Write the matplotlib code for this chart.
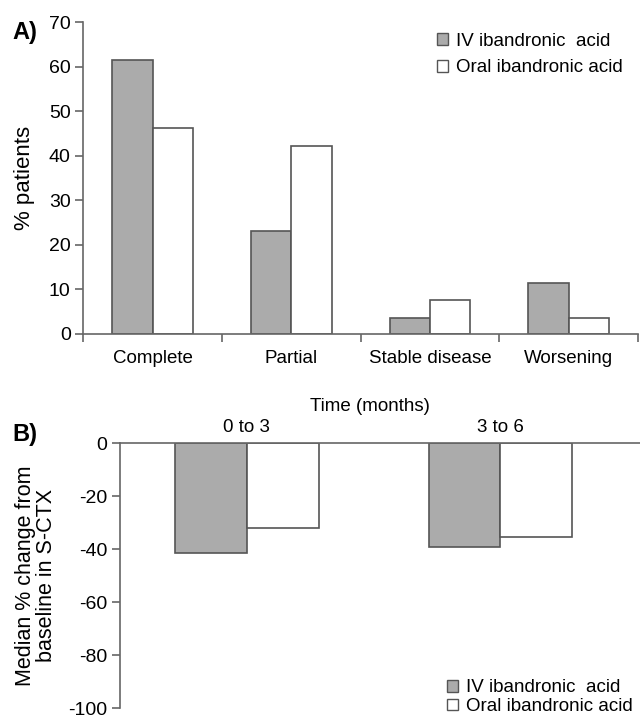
import numpy as np
import matplotlib.pyplot as plt
from matplotlib.patches import Patch

plt.rcParams['font.family'] = ['Liberation Sans', 'DejaVu Sans']
plt.rcParams['axes.unicode_minus'] = False

# panel A data
categories = ["Complete", "Partial", "Stable disease", "Worsening"]
iv_resp = [61.5, 23.1, 3.6, 11.4]
oral_resp = [46.2, 42.3, 7.7, 3.6]

# panel B data
periods = ["0 to 3", "3 to 6"]
iv_ctx = [-41.4, -39.4]
oral_ctx = [-32.2, -35.4]

grey = "#ababab"
edge = "#555555"
spine_c = "#666666"
labels = ["IV ibandronic  acid", "Oral ibandronic acid"]

fig = plt.figure(figsize=(6.4, 7.21), dpi=100)

# ---- A ----
axA = fig.add_axes([0.130, 0.537, 0.867, 0.432])
x = np.arange(len(categories))
w = 0.29
axA.bar(x - w/2, iv_resp, w, color=grey, edgecolor=edge, linewidth=1.2)
axA.bar(x + w/2, oral_resp, w, color="white", edgecolor=edge, linewidth=1.2)
axA.set_xlim(-0.5, 3.5)
axA.set_ylim(0, 70)
axA.set_yticks(range(0, 71, 10))
axA.set_xticks(np.arange(-0.5, 4, 1))
axA.set_xticklabels([])
axA.set_xticks(x, minor=True)
axA.set_xticklabels(categories, minor=True, fontsize=13.5)
axA.tick_params(axis="x", which="minor", length=0, pad=12)
axA.tick_params(axis="x", which="major", direction="out", length=6, color=spine_c, width=1.2)
axA.tick_params(axis="y", length=6, color=spine_c, width=1.2, labelsize=14, pad=3)
for s in ["top", "right"]:
    axA.spines[s].set_visible(False)
for s in ["left", "bottom"]:
    axA.spines[s].set_color(spine_c)
    axA.spines[s].set_linewidth(1.2)
axA.set_ylabel("% patients", fontsize=16, labelpad=10)
axA.legend(handles=[Patch(facecolor=grey, edgecolor=edge), Patch(facecolor="white", edgecolor=edge)],
           labels=labels, loc="upper right", bbox_to_anchor=(0.985, 0.99), frameon=False,
           fontsize=13.5, handlelength=0.6, handleheight=0.6, handletextpad=0.4, labelspacing=0.5,
           borderaxespad=0.0)
fig.text(0.02, 0.955, "A)", fontsize=17, fontweight="bold", va="center")

# ---- B ----
axB = fig.add_axes([0.1875, 0.018, 0.8125, 0.3675])
xb = np.arange(len(periods))
wb = 0.283
axB.bar(xb - wb/2, iv_ctx, wb, color=grey, edgecolor=edge, linewidth=1.2)
axB.bar(xb + wb/2, oral_ctx, wb, color="white", edgecolor=edge, linewidth=1.2)
axB.set_xlim(-0.5, 1.55)
axB.set_ylim(-100, 0)
axB.set_yticks(range(-100, 1, 20))
axB.xaxis.tick_top()
axB.xaxis.set_label_position("top")
axB.set_xticks(xb)
axB.set_xticklabels(periods, fontsize=13.5)
axB.tick_params(axis="x", length=0, pad=5)
axB.tick_params(axis="y", length=6, color=spine_c, width=1.2, labelsize=14, pad=3)
axB.set_xlabel("Time (months)", fontsize=13.5, labelpad=4)
axB.xaxis.set_label_coords(0.48, 1.12)
for s in ["bottom", "right"]:
    axB.spines[s].set_visible(False)
for s in ["left", "top"]:
    axB.spines[s].set_color(spine_c)
    axB.spines[s].set_linewidth(1.2)
axB.set_ylabel("Median % change from\nbaseline in S-CTX", fontsize=15.5, labelpad=8, linespacing=1.0)
axB.legend(handles=[Patch(facecolor=grey, edgecolor=edge), Patch(facecolor="white", edgecolor=edge)],
           labels=labels, loc="lower right", bbox_to_anchor=(1.0, -0.055), frameon=False,
           fontsize=13.5, handlelength=0.6, handleheight=0.6, handletextpad=0.4, labelspacing=0.1,
           borderaxespad=0.0)
fig.text(0.02, 0.397, "B)", fontsize=17, fontweight="bold", va="center")

fig.savefig("out.png", dpi=100)
